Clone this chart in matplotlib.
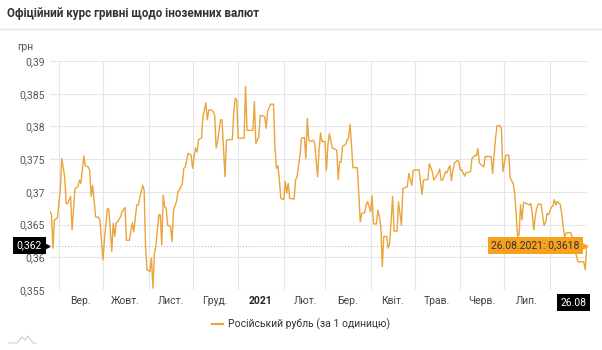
import matplotlib
matplotlib.use("Agg")
import matplotlib.pyplot as plt
import matplotlib.transforms as mtransforms
from matplotlib.lines import Line2D
import pandas as pd

# official NBU rate of the russian rouble (UAH per 1 unit), 26.08.2020 - 26.08.2021
start_date = "2020-08-26"
day_offset = [
    0, 1, 2, 3, 5, 7, 8, 10, 11, 12, 14, 15, 17, 19, 20, 21, 23, 24, 26, 27,
    28, 29, 31, 33, 34, 36, 37, 39, 40, 42, 43, 44, 45, 46, 48, 49, 51, 52, 54, 56,
    57, 59, 60, 63, 64, 65, 66, 68, 69, 70, 71, 72, 74, 75, 76, 77, 78, 79, 80, 82,
    83, 84, 86, 87, 88, 90, 91, 92, 93, 94, 96, 97, 98, 99, 100, 101, 103, 104, 106, 107,
    108, 110, 111, 112, 113, 114, 116, 117, 119, 120, 122, 124, 125, 126, 127, 128, 132, 133, 134, 138,
    139, 140, 142, 143, 145, 146, 147, 148, 150, 152, 153, 154, 155, 156, 157, 159, 160, 161, 162, 163,
    166, 167, 168, 170, 171, 173, 174, 175, 176, 177, 179, 180, 182, 183, 184, 185, 187, 188, 189, 190,
    192, 195, 196, 197, 198, 199, 201, 202, 203, 204, 205, 206, 209, 210, 211, 212, 214, 215, 216, 218,
    219, 220, 222, 223, 224, 225, 226, 227, 229, 230, 231, 233, 234, 236, 237, 239, 240, 243, 244, 246,
    247, 251, 253, 254, 257, 258, 260, 261, 262, 264, 265, 266, 267, 269, 270, 271, 272, 273, 274, 275,
    277, 278, 279, 280, 282, 283, 286, 287, 289, 290, 291, 292, 294, 295, 296, 300, 301, 303, 304, 306,
    307, 308, 310, 312, 313, 315, 316, 317, 318, 319, 320, 321, 322, 326, 327, 328, 329, 330, 331, 332,
    334, 335, 336, 337, 338, 339, 341, 342, 343, 344, 345, 347, 348, 349, 350, 351, 354, 355, 356, 359,
    363, 364, 365,
]
rub_rate = [
    0.3670, 0.3665, 0.3614, 0.3657, 0.3660, 0.3703, 0.3751, 0.3723, 0.3682, 0.3682,
    0.3693, 0.3642, 0.3705, 0.3708, 0.3718, 0.3713, 0.3755, 0.3740, 0.3738, 0.3733,
    0.3693, 0.3710, 0.3662, 0.3661, 0.3657, 0.3596, 0.3626, 0.3674, 0.3674, 0.3609,
    0.3652, 0.3632, 0.3653, 0.3654, 0.3662, 0.3670, 0.3676, 0.3626, 0.3626, 0.3653,
    0.3639, 0.3680, 0.3680, 0.3710, 0.3703, 0.3616, 0.3581, 0.3578, 0.3599, 0.3553,
    0.3606, 0.3616, 0.3665, 0.3665, 0.3619, 0.3695, 0.3677, 0.3675, 0.3649, 0.3647,
    0.3624, 0.3672, 0.3685, 0.3700, 0.3703, 0.3713, 0.3736, 0.3738, 0.3749, 0.3759,
    0.3756, 0.3736, 0.3754, 0.3767, 0.3761, 0.3780, 0.3782, 0.3815, 0.3836, 0.3810,
    0.3825, 0.3825, 0.3823, 0.3817, 0.3767, 0.3777, 0.3810, 0.3810, 0.3723, 0.3779,
    0.3780, 0.3780, 0.3823, 0.3843, 0.3840, 0.3782, 0.3782, 0.3861, 0.3794, 0.3794,
    0.3838, 0.3774, 0.3784, 0.3817, 0.3816, 0.3815, 0.3797, 0.3823, 0.3834, 0.3834,
    0.3769, 0.3736, 0.3740, 0.3718, 0.3690, 0.3688, 0.3716, 0.3698, 0.3713, 0.3690,
    0.3689, 0.3718, 0.3723, 0.3756, 0.3782, 0.3783, 0.3751, 0.3812, 0.3779, 0.3777,
    0.3779, 0.3774, 0.3723, 0.3764, 0.3790, 0.3777, 0.3777, 0.3733, 0.3772, 0.3789,
    0.3767, 0.3764, 0.3719, 0.3746, 0.3746, 0.3770, 0.3772, 0.3779, 0.3782, 0.3803,
    0.3774, 0.3737, 0.3737, 0.3698, 0.3654, 0.3667, 0.3668, 0.3680, 0.3685, 0.3670,
    0.3694, 0.3651, 0.3651, 0.3672, 0.3662, 0.3647, 0.3586, 0.3632, 0.3632, 0.3614,
    0.3621, 0.3693, 0.3640, 0.3640, 0.3685, 0.3649, 0.3705, 0.3708, 0.3728, 0.3710,
    0.3733, 0.3734, 0.3696, 0.3718, 0.3719, 0.3743, 0.3731, 0.3718, 0.3721, 0.3729,
    0.3735, 0.3718, 0.3718, 0.3731, 0.3729, 0.3736, 0.3740, 0.3717, 0.3733, 0.3744,
    0.3748, 0.3746, 0.3733, 0.3734, 0.3724, 0.3729, 0.3731, 0.3751, 0.3756, 0.3755,
    0.3766, 0.3744, 0.3740, 0.3738, 0.3754, 0.3754, 0.3728, 0.3782, 0.3801, 0.3801,
    0.3797, 0.3731, 0.3756, 0.3756, 0.3721, 0.3713, 0.3698, 0.3667, 0.3632, 0.3634,
    0.3680, 0.3657, 0.3684, 0.3680, 0.3682, 0.3667, 0.3642, 0.3662, 0.3675, 0.3681,
    0.3681, 0.3665, 0.3649, 0.3652, 0.3667, 0.3665, 0.3677, 0.3678, 0.3688, 0.3680,
    0.3685, 0.3681, 0.3667, 0.3647, 0.3631, 0.3637, 0.3638, 0.3632, 0.3621, 0.3593,
    0.3593, 0.3581, 0.3618,
]

y_ticks = [0.355, 0.36, 0.365, 0.37, 0.375, 0.38, 0.385, 0.39]
y_tick_labels = ["0,355", "0,36", "0,365", "0,37", "0,375", "0,38", "0,385", "0,39"]
month_labels = ["Вер.", "Жовт.", "Лист.", "Груд.", "2021", "Лют.", "Бер.",
                "Квіт.", "Трав.", "Черв.", "Лип."]

title = "Офіційний курс гривні щодо іноземних валют"
series_name = "Російський рубль (за 1 одиницю)"
line_color = "#EAA43A"
label_color = "#F7A11E"

plt.rcParams['font.family'] = ['Roboto', 'DejaVu Sans']

dates = pd.Timestamp(start_date) + pd.to_timedelta(day_offset, unit="D")
month_starts = pd.date_range("2020-09-01", "2021-08-01", freq="MS")
label_pos = month_starts[:-1] + pd.Timedelta(days=15)
last_date = dates[-1]
last_rate = rub_rate[-1]

fig = plt.figure(figsize=(6.02, 3.5), dpi=100)
ax = fig.add_axes([50 / 602, 60 / 350, 536.7 / 602, 229 / 350])

ax.plot(dates, rub_rate, color=line_color, lw=1.0, zorder=3)
ax.set_xlim(dates[0], last_date)
ax.set_ylim(0.355, 0.39)

for s in ax.spines.values():
    s.set_visible(False)

ax.set_yticks(y_ticks)
ax.set_yticklabels(y_tick_labels)
ax.tick_params(axis='y', length=0, pad=3.6, labelsize=7.5, labelcolor='#555555')

ax.set_xticks(month_starts)
ax.set_xticklabels([])
ax.set_xticks(label_pos, minor=True)
ax.set_xticklabels(month_labels, minor=True)
ax.tick_params(axis='x', which='both', length=0, pad=4, labelsize=7.5, labelcolor='#444444')
for lbl in ax.get_xticklabels(minor=True):
    if lbl.get_text() == "2021":
        lbl.set_fontweight('bold')
        lbl.set_color('#222222')

ax.grid(True, which='major', color='#e6e6e6', lw=0.8)
ax.set_axisbelow(True)

# crosshair for the last point
ax.axhline(last_rate, color='#b0b0b0', ls=(0, (1, 2)), lw=0.7, zorder=2)
ax.axvline(last_date, color='#b0b0b0', ls=(0, (1, 2)), lw=0.7, zorder=2)

# value box on the y axis
ytr = mtransforms.offset_copy(ax.get_yaxis_transform(), fig=fig, x=-8, y=0, units='dots')
ax.text(0, last_rate, "0,362", transform=ytr, ha='right', va='center', fontsize=7.5,
        color='white', bbox=dict(boxstyle='square,pad=0.35', fc='black', ec='none'), zorder=5)
atr = mtransforms.offset_copy(ax.get_yaxis_transform(), fig=fig, x=-3, y=0, units='dots')
ax.plot([0], [last_rate], marker='>', ms=3.5, color='black', transform=atr, clip_on=False, zorder=5)

# date box on the x axis
xtr = mtransforms.offset_copy(ax.get_xaxis_transform(), fig=fig, x=0, y=-12.5, units='dots')
ax.text(last_date, 0, last_date.strftime("%d.%m"), transform=xtr, ha='right', va='center',
        fontsize=7.5, color='white', bbox=dict(boxstyle='square,pad=0.35', fc='black', ec='none'),
        clip_on=False, zorder=5)

# tooltip of the last point
ttr = mtransforms.offset_copy(ax.transData, fig=fig, x=-7, y=0, units='dots')
tip = last_date.strftime("%d.%m.%Y") + ": " + ("%.4f" % last_rate).replace(".", ",")
ax.text(last_date, last_rate, tip, transform=ttr, ha='right', va='center', fontsize=7.5,
        color='#333333', bbox=dict(boxstyle='square,pad=0.35', fc=label_color, ec='none'), zorder=6)
mtr = mtransforms.offset_copy(ax.transData, fig=fig, x=-2, y=0, units='dots')
ax.plot([last_date], [last_rate], marker='>', ms=3.5, color=label_color, transform=mtr,
        clip_on=False, zorder=6)

# header
fig.text(7 / 602, 1 - 13 / 350, title, ha='left', va='center', fontsize=8.4,
         fontweight='bold', color='#333333')
fig.add_artist(Line2D([0, 1], [1 - 29 / 350] * 2, transform=fig.transFigure, color='#e2e2e2', lw=1))
fig.text(17 / 602, 1 - 47 / 350, "грн", ha='left', va='center', fontsize=7.5, color='#555555')

fig.legend(handles=[Line2D([], [], color=line_color, lw=1.5)], labels=[series_name],
           loc='center', bbox_to_anchor=(0.5, 1 - 324 / 350), frameon=False, fontsize=7.5,
           handlelength=1.1, handletextpad=0.5, labelcolor='#333333')

# small logo mark at the bottom left
fig.add_artist(Line2D([9 / 602, 17 / 602, 22 / 602, 25 / 602, 28 / 602, 33 / 602, 36 / 602],
                      [1 - 343 / 350, 1 - 343 / 350, 1 - 337 / 350, 1 - 340 / 350,
                       1 - 336 / 350, 1 - 343 / 350, 1 - 343 / 350],
                      transform=fig.transFigure, color='#cfcfcf', lw=0.8))

fig.savefig("out.png", dpi=100)
